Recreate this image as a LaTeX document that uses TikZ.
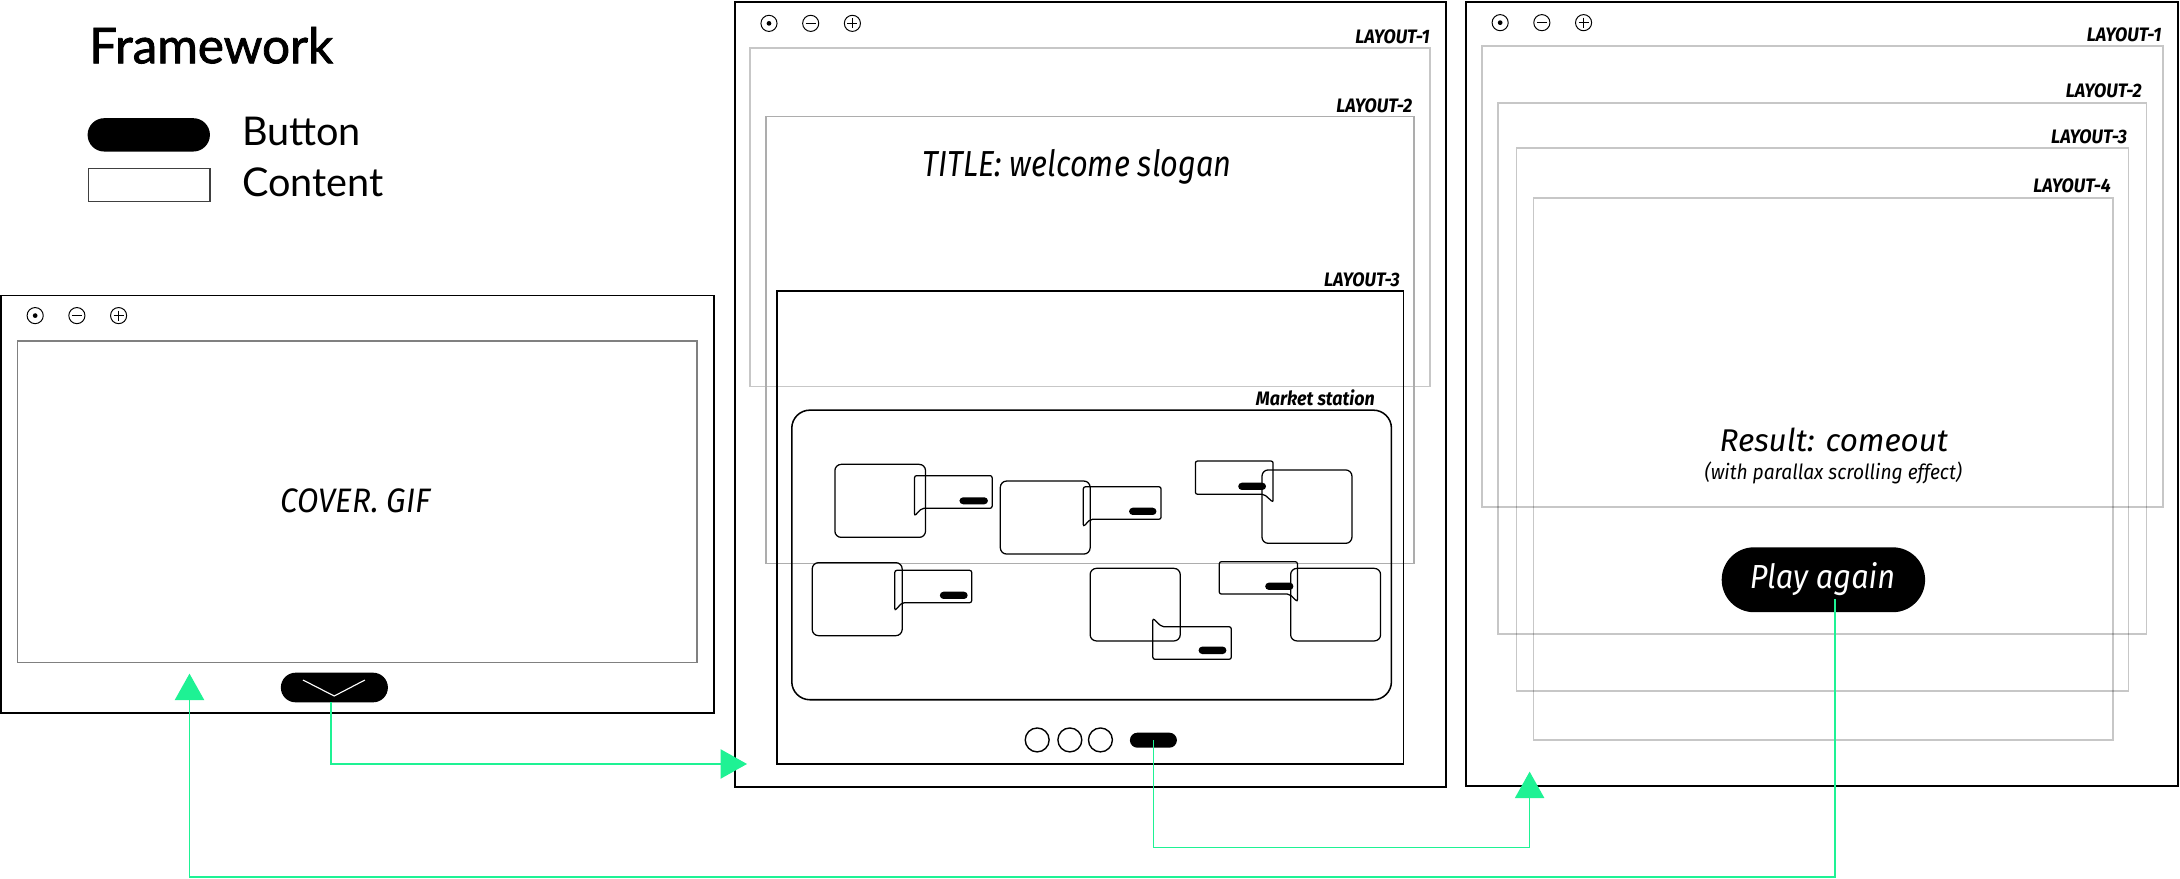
\documentclass[tikz,border=0pt]{standalone}
\usepackage{fontspec}
\setmainfont{Fira Sans}
\newfontfamily\lato{Lato}
\newfontfamily\latomed{Lato}[UprightFeatures={FakeBold=1.6}]
\newfontfamily\firac{Fira Sans}[FakeStretch=0.92]
\newfontfamily\firacc{Fira Sans}[FakeStretch=0.85]
\usetikzlibrary{arrows.meta}
\definecolor{mint}{RGB}{30,242,148}
\tikzset{
  win/.style={draw=black,line width=1.3pt},
  graylay/.style={draw=black,draw opacity=0.22,line width=1.3pt},
  card/.style={draw=black,line width=0.9pt,rounded corners=4.5pt},
  bub/.style={draw=black,line width=0.9pt,rounded corners=1.5pt},
  minipill/.style={fill=black,rounded corners=2.6pt},
  pillbtn/.style={fill=black,draw=none,rounded corners=#1,inner sep=0pt},
  icon/.style={draw=black,line width=0.7pt},
  conn/.style={draw=mint,line width=1.1pt,-{Triangle[length=19pt,width=21pt]},color=mint},
  laylab/.style={font=\firac\bfseries\itshape\fontsize{14}{16}\selectfont,anchor=base east,inner sep=0pt},
  bigit/.style={font=\itshape\fontsize{#1}{#1}\selectfont,anchor=base,inner sep=0pt},
}
\newcommand{\winicons}[2]{%
  \draw[icon] (#1,#2) circle (5.8);
  \fill (#1,#2) circle (1.7);
  \draw[icon] (#1+30,#2) circle (5.8);
  \draw[icon] (#1+26.4,#2) -- (#1+33.6,#2);
  \draw[icon] (#1+60,#2) circle (5.8);
  \draw[icon] (#1+56.4,#2) -- (#1+63.6,#2);
  \draw[icon] (#1+60,#2-3.6) -- (#1+60,#2+3.6);
}
\begin{document}
\begin{tikzpicture}[x=1pt,y=-1pt]
\useasboundingbox (0,0) rectangle (1568,632);
\fill[white] (0,0) rectangle (1568,632);

% ---------- legend ----------
\node[font=\latomed\fontsize{35.5}{40}\selectfont,anchor=base west,inner sep=0pt] (fw) at (64,45.5) {Framework};
\node[pillbtn=12pt,minimum width=88pt,minimum height=24pt] (legbtn) at (107,97) {};
\node[font=\lato\fontsize{28.5}{32}\selectfont,anchor=base west,inner sep=0pt] (legbtntxt) at (174,105) {Button};
\node[draw=black!75,line width=1pt,minimum width=87.5pt,minimum height=24pt,inner sep=0pt] (legcont) at (107.2,133) {};
\node[font=\lato\fontsize{28.5}{32}\selectfont,anchor=base west,inner sep=0pt] (legconttxt) at (174,141) {Content};

% ---------- window 1 ----------
\draw[win] (0.9,212.5) rectangle (513.4,513.1);
\winicons{25.3}{227}
\draw[draw=black!50,line width=1pt] (12.5,245.3) rectangle (501.2,476.6);
\node[bigit=24.4,font=\firac\itshape\fontsize{24.4}{26}\selectfont] (cover) at (255.7,368.5) {COVER. GIF};
\node[pillbtn=10.6pt,minimum width=77pt,minimum height=21.3pt] (btn1) at (240.5,494.5) {};
\draw[white,line width=0.8pt] (217.9,489.1) -- (240.4,500.6) -- (262.5,489.1);

% ---------- window 2 ----------
\draw[win] (528.4,1.3) rectangle (1040,566);
\winicons{553.1}{16.8}
\draw[draw=black!22,line width=1.2pt] (539.3,34.3) rectangle (1028.6,278.1);
\node[laylab] (w2l1) at (1028.6,31.2) {LAYOUT-1};
\draw[draw=black!32,line width=1.2pt] (550.8,83.9) rectangle (1017,405.2);
\node[laylab] (w2l2) at (1016,80.8) {LAYOUT-2};
\node[bigit=26,font=\firacc\itshape\fontsize{26}{28}\selectfont] (title) at (774.8,127.1) {TITLE: welcome slogan};
\draw[draw=black,line width=1.2pt] (559.1,209.1) rectangle (1009.4,549.5);
\node[laylab] (w2l3) at (1007,206.2) {LAYOUT-3};
\node[laylab] (mkt) at (989,291.3) {Market station};
\draw[draw=black,line width=1.1pt,rounded corners=13pt] (569.5,295) rectangle (1000.8,503.3);

% cards
\draw[card] (600.5,334) rectangle (665.7,386.5);
\draw[bub] (657.8,371.1) -- (657.8,342.1) -- (713.6,342.1) -- (713.6,365.6) -- (663,365.6) -- cycle;
\fill[minipill] (690.1,357.7) rectangle (710.6,362.7);

\draw[card] (719.5,346) rectangle (784.1,398.5);
\draw[bub] (779.2,378.8) -- (779.2,350.1) -- (835.1,350.1) -- (835.1,373.5) -- (784.3,373.5) -- cycle;
\fill[minipill] (812.1,365.2) rectangle (831.8,370.4);

\draw[bub] (859.8,331.6) -- (915.7,331.6) -- (915.7,361.3) -- (909.2,355.5) -- (859.8,355.5) -- cycle;
\draw[card] (907.7,338) rectangle (972.4,390.8);
\fill[minipill] (890.6,347.2) rectangle (910.6,352.4);

\draw[card] (584.2,404.7) rectangle (648.9,457.2);
\draw[bub] (643.6,439.2) -- (643.6,410.2) -- (698.9,410.2) -- (698.9,433.5) -- (648.9,433.5) -- cycle;
\fill[minipill] (676,425.6) rectangle (696,430.8);

\draw[card] (784.1,408.8) rectangle (848.9,461);
\draw[bub] (829.2,444.7) -- (835.6,450.8) -- (885.6,450.8) -- (885.6,474.2) -- (829.2,474.2) -- cycle;
\fill[minipill] (862.1,465.1) rectangle (882.1,470.4);

\draw[bub] (877,404) -- (933.2,404) -- (933.2,432.8) -- (927.4,427.3) -- (877,427.3) -- cycle;
\draw[card] (928.3,408.8) rectangle (993,461);
\fill[minipill] (910,419.1) rectangle (930.3,424.3);

% pager
\draw[line width=1pt] (746,532.2) circle (8.6);
\draw[line width=1pt] (769.5,532.2) circle (8.6);
\draw[line width=1pt] (791.5,532.2) circle (8.6);
\node[pillbtn=5.4pt,minimum width=33.8pt,minimum height=10.8pt] (btn2) at (829.6,532.4) {};

% ---------- window 3 ----------
\draw[win] (1054.3,1.5) rectangle (1566.8,565.4);
\winicons{1079}{16.3}
\draw[graylay] (1066,33.1) rectangle (1555.5,364.4);
\node[laylab] (w3l1) at (1554.8,30) {LAYOUT-1};
\draw[graylay] (1077.5,74.3) rectangle (1543.9,456);
\node[laylab] (w3l2) at (1540.6,70) {LAYOUT-2};
\draw[graylay] (1090.8,106.7) rectangle (1531,496.8);
\node[laylab] (w3l3) at (1530,103) {LAYOUT-3};
\draw[graylay] (1103,142.6) rectangle (1519.5,532.3);
\node[laylab] (w3l4) at (1518.4,138.6) {LAYOUT-4};
\node[bigit=22.6] (result) at (1319,324.9) {Result: comeout};
\node[bigit=15,font=\firac\itshape\fontsize{15}{16}\selectfont] (parallax) at (1318.6,345.2) {(with parallax scrolling effect)};
\node[pillbtn=23.3pt,minimum width=146.3pt,minimum height=46.7pt] (play) at (1311.5,417) {};
\node[bigit=24,font=\firac\itshape\fontsize{24}{26}\selectfont,text=white] (playtxt) at (1310.8,423.2) {Play again};

% ---------- connectors ----------
\coordinate (s1) at (238,505.2);
\coordinate (t1) at (537.3,549.5);
\draw[conn] (s1) |- (t1);

\coordinate (k2) at (1100.2,609.5);
\coordinate (t2) at (1100.2,555);
\draw[conn] (btn2.center) |- (k2) -- (t2);

\coordinate (p0) at (1320,430.8);
\coordinate (k3) at (136.3,630.6);
\coordinate (t3) at (136.3,484.5);
\draw[conn] (p0) |- (k3) -- (t3);
\end{tikzpicture}
\end{document}
